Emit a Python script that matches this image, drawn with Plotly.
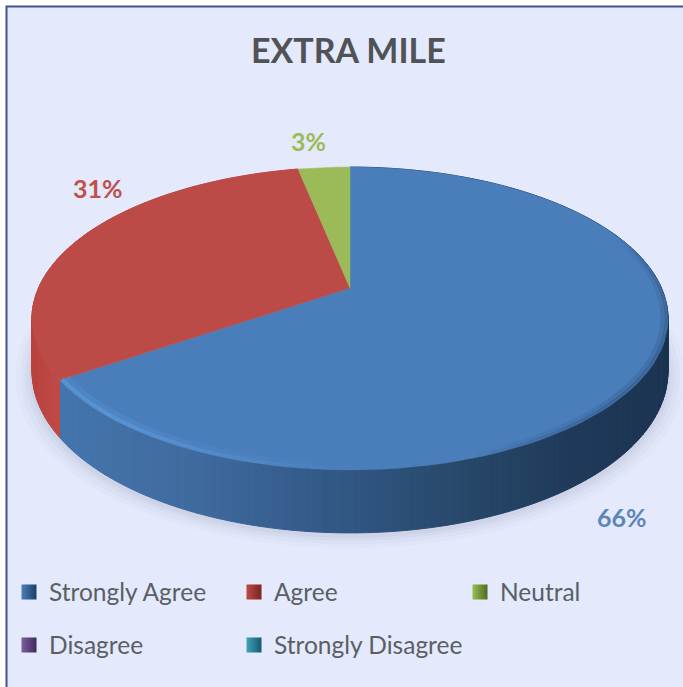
import math
import plotly.graph_objects as go

categories = ["Strongly Agree", "Agree", "Neutral", "Disagree", "Strongly Disagree"]
values = [65.5, 31.3, 3.2, 0, 0]
top_colors = ["#4a7ebb", "#bc4b47", "#9bbb59", "#7d5f9e", "#3fa3bd"]
bevel_colors = ["#1f3f66", "#7a2320", "#4f6a20", "#3e2a58", "#14596b"]
legend_slots = ["legend", "legend2", "legend3", "legend4", "legend5"]
chart_title = "EXTRA MILE"

FONT = "Lato"
CX, CY = 350, 288
B, A, K = 311.5, 145.3, 0.2012
LABELS = [(622, 517, "#5c86b8"), (98, 188, "#c0504d"), (308, 141, "#9bbb59")]


def project(theta, r=1.0, drop=False):
    u, v = r * math.sin(theta), r * math.cos(theta)
    w = 1 + K * v
    x, y = CX + B * u / w, CY - A * v / w
    if drop:
        y += 50 - 13 * v
    return x, y


def arc(a0, a1, n, r=1.0, drop=False):
    pts = [project(a0 + (a1 - a0) * i / n, r, drop) for i in range(n + 1)]
    return [p[0] for p in pts], [p[1] for p in pts]


def mix(c1, c2, t):
    a = [int(c1[i:i + 2], 16) for i in (1, 3, 5)]
    b = [int(c2[i:i + 2], 16) for i in (1, 3, 5)]
    return "rgb(%d,%d,%d)" % tuple(round(p + (q - p) * t) for p, q in zip(a, b))


def blue_side(x):
    stops = [(60, "#4475ad"), (200, "#3f6a9e"), (350, "#305682"), (470, "#274768"),
             (570, "#1f3a5a"), (680, "#1c3350")]
    for (x0, c0), (x1, c1) in zip(stops, stops[1:]):
        if x <= x1:
            return mix(c0, c1, max(0, (x - x0) / (x1 - x0)))
    return stops[-1][1]


def red_side(x):
    return mix("#b8423e", "#c04b47", max(0, min(1, (x - 30) / 35)))


fig = go.Figure()
total = sum(values)
shares = [v / total * 2 * math.pi for v in values]

# soft shadow under the disc
for grow, alpha in ((1.05, 0.02), (1.035, 0.03), (1.02, 0.04), (1.008, 0.05)):
    xs, ys = arc(0, 2 * math.pi, 120, r=grow, drop=True)
    ys = [y + 3 for y in ys]
    fig.add_trace(go.Scatter(x=xs, y=ys, mode="lines", fill="toself", line=dict(width=0),
                             fillcolor=f"rgba(70,80,120,{alpha})", hoverinfo="skip", showlegend=False))

# side wall: slices, clockwise from the top of the disc
start = 0.0
for i, share in enumerate(shares):
    end = start + share
    if share > 0 and i < 2:
        steps = max(4, int(share / 0.02))
        for s in range(steps):
            a0 = start + share * s / steps
            a1 = start + share * (s + 1) / steps
            x0, y0 = arc(a0, a1, 2)
            x1, y1 = arc(a1, a0, 2, drop=True)
            xm = sum(x0) / len(x0)
            col = blue_side(xm) if i == 0 else red_side(xm)
            fig.add_trace(go.Scatter(x=x0 + x1 + x0[:1], y=y0 + y1 + y0[:1], mode="lines", fill="toself",
                                     line=dict(width=1, color=col), fillcolor=col,
                                     hoverinfo="skip", showlegend=False))
    start = end

# top faces
start = 0.0
for i, share in enumerate(shares):
    if share > 0:
        xs, ys = arc(start, start + share, 90)
        fig.add_trace(go.Scatter(x=[CX] + xs + [CX], y=[CY] + ys + [CY], mode="lines", fill="toself",
                                 line=dict(width=0.5, color=top_colors[i]), fillcolor=top_colors[i],
                                 name=categories[i], hoverinfo="name", showlegend=False))
    start += share

# bevel highlight along the front left rim, blurred dark edge on the right
b_end = shares[0]
n = 50
for s in range(n):
    a0 = b_end - (b_end - math.pi) * s / n
    a1 = b_end - (b_end - math.pi) * (s + 1) / n
    fade = min(1.0, 1.5 * (1 - s / n))
    for r, wid, al in ((0.98, 7, 0.22), (0.992, 4, 0.55)):
        xs, ys = arc(a0, a1, 2, r=r)
        fig.add_trace(go.Scatter(x=xs, y=ys, mode="lines",
                                 line=dict(width=wid, color=f"rgba(96,160,225,{al * fade:.3f})"),
                                 hoverinfo="skip", showlegend=False))
n = 40
for s in range(n):
    a0 = 1.2 + 1.6 * s / n
    a1 = 1.2 + 1.6 * (s + 1) / n
    fade = math.sin(math.pi * (s + 0.5) / n) ** 0.7
    for r, wid, al in ((0.985, 5, 0.16), (0.995, 3, 0.3)):
        xs, ys = arc(a0, a1, 2, r=r)
        fig.add_trace(go.Scatter(x=xs, y=ys, mode="lines",
                                 line=dict(width=wid, color=f"rgba(28,51,80,{al * fade:.3f})"),
                                 hoverinfo="skip", showlegend=False))

# legend entries
for i, name in enumerate(categories):
    fig.add_trace(go.Scatter(
        x=[None], y=[None], mode="markers", name=name,
        legend=legend_slots[i],
        marker=dict(symbol="square", size=15, color=top_colors[i],
                    gradient=dict(type="horizontal", color=bevel_colors[i])),
    ))

annotations = [dict(x=348, y=49, text=f"<b>{chart_title}</b>", showarrow=False,
                    font=dict(family=FONT, size=34, color="#4f5358"))]
for v, (lx, ly, c) in zip(values, LABELS):
    annotations.append(dict(x=lx, y=ly, text=f"<b>{round(v / total * 100)}%</b>", showarrow=False,
                            font=dict(family=FONT, size=25, color=c)))

legend_common = dict(orientation="h", xanchor="left", yanchor="middle",
                     entrywidthmode="pixels", bgcolor="rgba(0,0,0,0)",
                     font=dict(family=FONT, size=24.5, color="#5a5f66"), itemclick=False, itemdoubleclick=False)

fig.update_layout(
    width=683, height=687, autosize=False,
    margin=dict(l=0, r=0, t=0, b=0),
    paper_bgcolor="#ffffff", plot_bgcolor="#ffffff",
    xaxis=dict(range=[0, 683], visible=False, fixedrange=True),
    yaxis=dict(range=[687, 0], visible=False, fixedrange=True),
    annotations=annotations,
    showlegend=True,
    legend=dict(x=9 / 683, y=1 - 592 / 687, entrywidth=170, **legend_common),
    legend2=dict(x=234 / 683, y=1 - 592 / 687, entrywidth=100, **legend_common),
    legend3=dict(x=460 / 683, y=1 - 592 / 687, entrywidth=100, **legend_common),
    legend4=dict(x=9 / 683, y=1 - 645 / 687, entrywidth=170, **legend_common),
    legend5=dict(x=234 / 683, y=1 - 645 / 687, entrywidth=210, **legend_common),
    shapes=[dict(type="rect", xref="x", yref="y", x0=6.5, y0=6.5, x1=700, y1=700, layer="below",
                 fillcolor="#e4e9fb", line=dict(color="#3f5592", width=2))],
)
fig.write_html("out.html", config={"displayModeBar": False},
               post_script="document.body.style.margin='0';document.body.style.overflow='hidden';")
